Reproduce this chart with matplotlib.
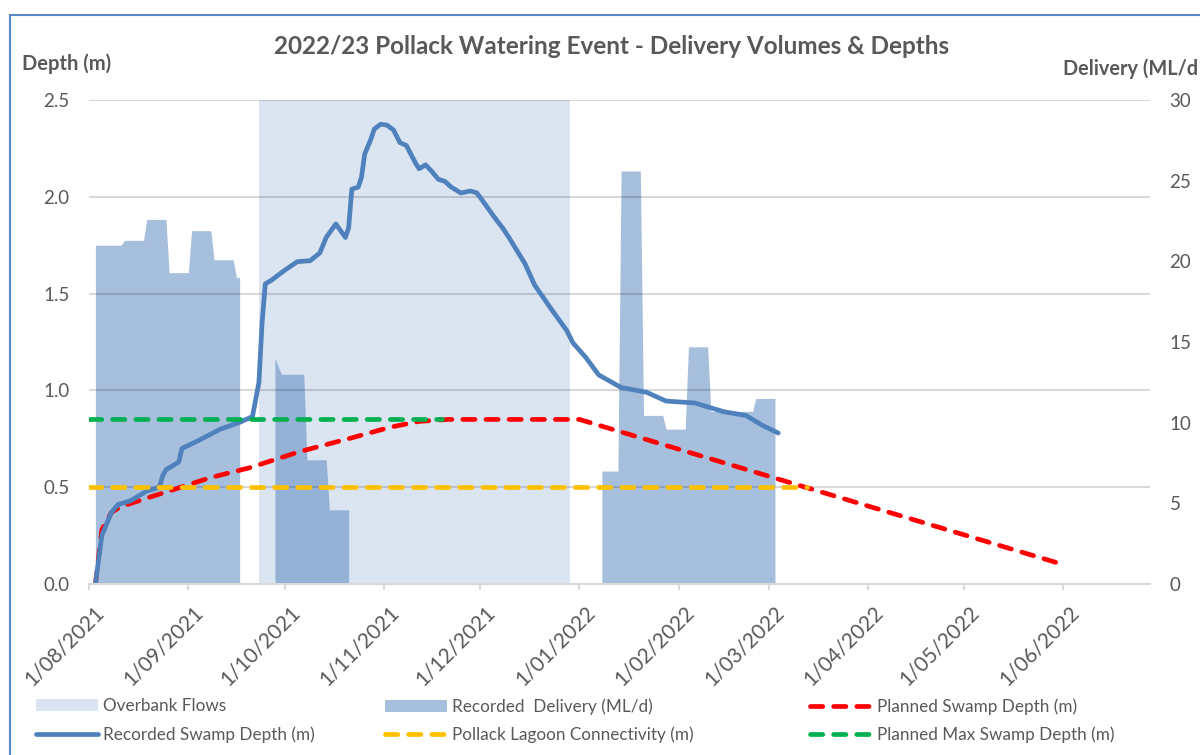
import matplotlib.pyplot as plt
import matplotlib.dates as mdates
from matplotlib.ticker import FuncFormatter, MultipleLocator
from matplotlib.patches import Rectangle
from matplotlib.transforms import ScaledTranslation
import pandas as pd

plt.rcParams['font.family'] = ['Lato', 'DejaVu Sans']

# overbank flow period (plotted on delivery axis, full height)
overbank_dates = ["2021-09-23", "2021-09-23", "2021-12-29", "2021-12-29"]
overbank_vals = [0, 30, 30, 0]

# recorded delivery ML/d
deliv_dates = ["2021-08-03", "2021-08-03", "2021-08-11", "2021-08-12", "2021-08-18", "2021-08-19",
               "2021-08-25", "2021-08-26", "2021-09-01", "2021-09-02", "2021-09-08", "2021-09-09",
               "2021-09-15", "2021-09-16", "2021-09-17", "2021-09-17",
               "2021-09-28", "2021-09-28", "2021-09-30", "2021-10-07", "2021-10-08", "2021-10-14",
               "2021-10-15", "2021-10-21", "2021-10-21",
               "2022-01-08", "2022-01-08", "2022-01-13", "2022-01-14", "2022-01-20", "2022-01-21",
               "2022-01-27", "2022-01-28", "2022-02-03", "2022-02-04", "2022-02-10", "2022-02-11",
               "2022-02-24", "2022-02-25", "2022-03-03", "2022-03-03"]
deliv_vals = [0, 21.0, 21.0, 21.3, 21.3, 22.6,
              22.6, 19.3, 19.3, 21.9, 21.9, 20.1,
              20.1, 19.0, 19.0, 0,
              0, 14.0, 13.0, 13.0, 7.7, 7.7,
              4.6, 4.6, 0,
              0, 7.0, 7.0, 25.6, 25.6, 10.45,
              10.45, 9.6, 9.6, 14.7, 14.7, 10.7,
              10.7, 11.5, 11.5, 0]

# recorded swamp depth (m)
depth_dates = ["2021-08-03", "2021-08-05", "2021-08-08", "2021-08-10", "2021-08-14", "2021-08-19",
               "2021-08-23", "2021-08-24", "2021-08-25", "2021-08-29", "2021-08-30", "2021-09-04",
               "2021-09-11", "2021-09-17", "2021-09-21", "2021-09-23", "2021-09-24", "2021-09-25",
               "2021-09-27", "2021-10-01", "2021-10-05", "2021-10-09", "2021-10-12", "2021-10-14",
               "2021-10-17", "2021-10-20", "2021-10-21", "2021-10-22", "2021-10-24", "2021-10-25",
               "2021-10-26", "2021-10-28", "2021-10-29", "2021-10-31", "2021-11-02", "2021-11-04",
               "2021-11-06", "2021-11-08", "2021-11-11", "2021-11-12", "2021-11-14", "2021-11-16",
               "2021-11-18", "2021-11-20", "2021-11-22", "2021-11-25", "2021-11-28", "2021-11-30",
               "2021-12-02", "2021-12-05", "2021-12-08", "2021-12-10", "2021-12-15", "2021-12-18",
               "2021-12-23", "2021-12-28", "2021-12-30", "2022-01-03", "2022-01-07", "2022-01-14",
               "2022-01-22", "2022-01-28", "2022-02-06", "2022-02-15", "2022-02-22", "2022-02-27",
               "2022-03-04"]
depth_vals = [0.00, 0.25, 0.37, 0.41, 0.43, 0.48,
              0.50, 0.56, 0.59, 0.63, 0.70, 0.74,
              0.80, 0.835, 0.865, 1.04, 1.35, 1.55,
              1.57, 1.62, 1.665, 1.67, 1.71, 1.79,
              1.86, 1.79, 1.84, 2.04, 2.05, 2.10,
              2.22, 2.30, 2.35, 2.375, 2.37, 2.345,
              2.28, 2.265, 2.17, 2.145, 2.165, 2.13,
              2.09, 2.08, 2.05, 2.02, 2.03, 2.02,
              1.975, 1.905, 1.84, 1.79, 1.655, 1.545,
              1.425, 1.31, 1.245, 1.17, 1.08, 1.015,
              0.99, 0.945, 0.935, 0.89, 0.87, 0.82,
              0.78]

# planned swamp depth (m)
plan_dates = ["2021-08-03", "2021-08-05", "2021-08-08", "2021-08-11", "2021-08-24", "2021-09-08",
              "2021-09-20", "2021-10-06", "2021-10-22", "2021-11-03", "2021-11-12", "2021-11-21",
              "2022-01-01", "2022-06-01"]
plan_vals = [0.0, 0.28, 0.37, 0.40, 0.47, 0.55,
             0.60, 0.685, 0.755, 0.81, 0.84, 0.85,
             0.85, 0.10]

lagoon_dates = ["2021-08-01", "2022-03-13"]
lagoon_vals = [0.5, 0.5]

maxdepth_dates = ["2021-08-01", "2021-11-19"]
maxdepth_vals = [0.85, 0.85]

txt = '#595959'

fig = plt.figure(figsize=(12, 7.55), dpi=100)
ax = fig.add_axes([89/1200, 1-584/755, (1150-89)/1200, (584-100)/755])
ax2 = ax.twinx()
ax.set_zorder(ax2.get_zorder() + 1)
ax.patch.set_visible(False)

h_over = ax2.fill_between(pd.to_datetime(overbank_dates), overbank_vals, color='#4F81BD', alpha=0.2, lw=0)
h_del = ax2.fill_between(pd.to_datetime(deliv_dates), deliv_vals, color='#4F81BD', alpha=0.5, lw=0)

lw = 3.4
dash = (2.6, 2.3)
h_plan, = ax.plot(pd.to_datetime(plan_dates), plan_vals, color='#FF0000', lw=lw, dashes=dash,
                  dash_capstyle='round')
h_depth, = ax.plot(pd.to_datetime(depth_dates), depth_vals, color='#4F81BD', lw=lw,
                   solid_capstyle='round', solid_joinstyle='round')
h_lag, = ax.plot(pd.to_datetime(lagoon_dates), lagoon_vals, color='#FFC000', lw=lw, dashes=dash,
                 dash_capstyle='round')
h_max, = ax.plot(pd.to_datetime(maxdepth_dates), maxdepth_vals, color='#00B050', lw=lw, dashes=dash,
                 dash_capstyle='round')

ax.set_xlim(pd.Timestamp("2021-08-01"), pd.Timestamp("2022-06-28"))
ax.set_ylim(0, 2.5)
ax2.set_ylim(0, 30)
ax.yaxis.set_major_locator(MultipleLocator(0.5))
ax2.yaxis.set_major_locator(MultipleLocator(5))
ax.yaxis.set_major_formatter(FuncFormatter(lambda v, _: f"{v:.1f}"))

ax.xaxis.set_major_locator(mdates.MonthLocator())
ax.xaxis.set_major_formatter(FuncFormatter(
    lambda v, _: f"{mdates.num2date(v).day}/{mdates.num2date(v).month:02d}/{mdates.num2date(v).year}"))

for a in (ax, ax2):
    for s in a.spines.values():
        s.set_visible(False)
ax.spines['bottom'].set_visible(True)
ax.spines['bottom'].set_color('#D9D9D9')
ax.spines['bottom'].set_linewidth(1.5)

ax.yaxis.grid(True, color='k', alpha=0.15, lw=1.5)
ax.set_axisbelow(True)

ax.tick_params(axis='x', length=4, width=1.5, color='#D9D9D9', labelsize=15, labelcolor=txt, pad=9)
ax.tick_params(axis='y', length=0, labelsize=13.5, labelcolor=txt, pad=14)
ax2.tick_params(axis='y', length=0, labelsize=13.5, labelcolor=txt, pad=14)
shift = ScaledTranslation(5/100, 0, fig.dpi_scale_trans)
for lab in ax.get_xticklabels():
    lab.set_rotation(45)
    lab.set_ha('right')
    lab.set_rotation_mode('anchor')
    lab.set_transform(lab.get_transform() + shift)

fig.text(0.51, 1-46/755, "2022/23 Pollack Watering Event - Delivery Volumes & Depths",
         ha='center', va='center', fontsize=17.5, fontweight='bold', color=txt)
fig.text(22/1200, 1-64/755, "Depth (m)", ha='left', va='center', fontsize=14.5, fontweight='bold', color=txt)
# right-axis title is cut at the chart edge in the original
fig.text(1198/1200, 1-69/755, "Delivery (ML/d", ha='right', va='center', fontsize=14.3,
         fontweight='bold', color=txt)

leg_kw = dict(loc='upper left', frameon=False, fontsize=12.3, labelcolor=txt, borderpad=0,
              borderaxespad=0, handlelength=3.6, handletextpad=0.35, labelspacing=0.72)
fig.legend([h_over, h_depth], ["Overbank Flows", "Recorded Swamp Depth (m)"],
           bbox_to_anchor=(36/1200, 1-698/755), **leg_kw)
fig.legend([h_del, h_lag], ["Recorded  Delivery (ML/d)", "Pollack Lagoon Connectivity (m)"],
           bbox_to_anchor=(385/1200, 1-698/755), **leg_kw)
fig.legend([h_plan, h_max], ["Planned Swamp Depth (m)", "Planned Max Swamp Depth (m)"],
           bbox_to_anchor=(810/1200, 1-698/755), **leg_kw)

fig.patches.append(Rectangle((10/1200, -0.1), 1.2, 1-15/755+0.1, transform=fig.transFigure,
                             fill=False, edgecolor='#5B87C7', lw=1.5))

fig.savefig("out.png", dpi=100)
